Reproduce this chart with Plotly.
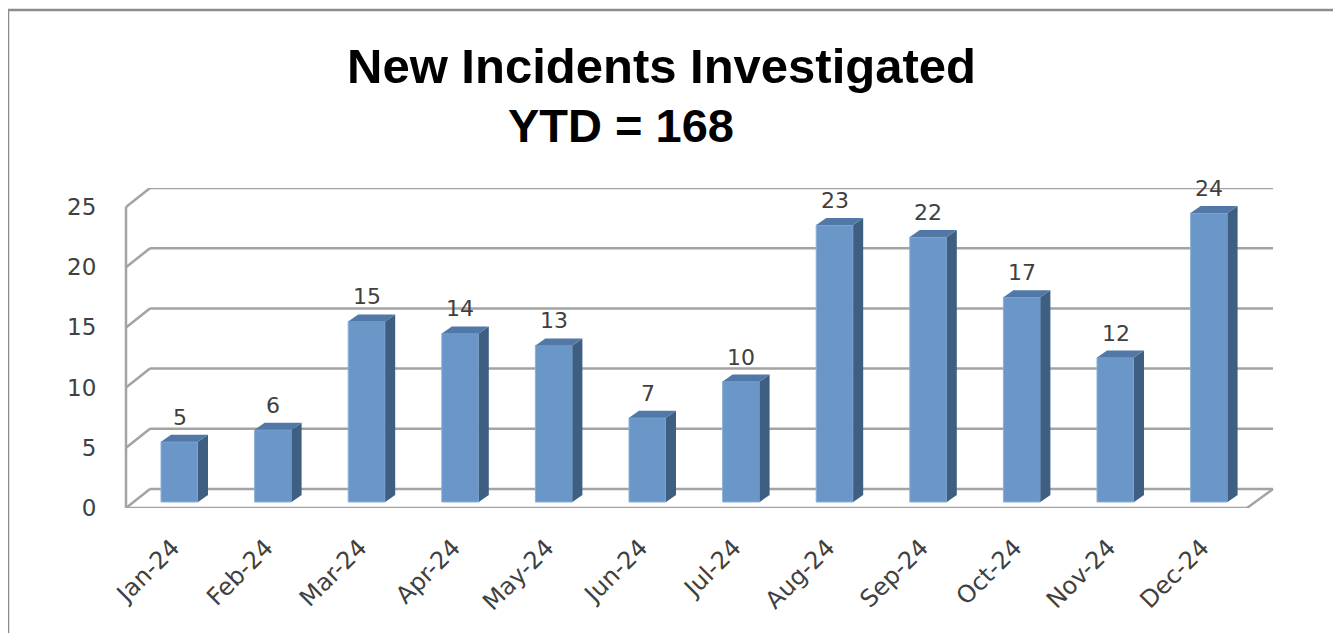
import plotly.graph_objects as go

months = ["Jan-24", "Feb-24", "Mar-24", "Apr-24", "May-24", "Jun-24",
          "Jul-24", "Aug-24", "Sep-24", "Oct-24", "Nov-24", "Dec-24"]
incidents = [5, 6, 15, 14, 13, 7, 10, 23, 22, 17, 12, 24]
y_ticks = [0, 5, 10, 15, 20, 25]
title_1 = "New Incidents Investigated"
title_2 = "YTD = 168"

FRONT = "#6A96C8"
SIDE = "#3F5F82"
TOP = "#5178A6"
GRID = "#A3A3A3"
TXT = "#404040"
FONT = "DejaVu Sans, sans-serif"

W, H = 1341, 633
OFF = 8                                    # page body margin of the html
L, R, T, B = 126, 1273, 188, 508          # plot area in pixels
X0, DX = 179.5, 93.6                       # first bar centre, bar spacing (px)
BASE, S = 502, 12.04                       # bar base pixel, px per unit
FRONT_DY = (BASE - 508) / S                # front plane offset (units)
BACK_DY = (BASE - 489) / S                 # back wall offset (units)
BAR_W = 37 / DX
DEPTH_X = 10 / DX
DEPTH_Y = 7 / S


def fx(p):
    return (p - L) / (R - L)


def fy(p):
    return (B - p) / (B - T)


idx = list(range(len(months)))

fig = go.Figure()
fig.add_bar(
    x=idx, y=incidents, width=BAR_W,
    marker=dict(color=FRONT, line=dict(color="#8AB0DA", width=1)),
    hovertemplate="<b>%{customdata}</b><br>%{y}<extra></extra>",
    customdata=months,
)

shapes = []
# back wall gridlines + left wall diagonals
for t in y_ticks:
    shapes.append(dict(type="line", xref="paper", yref="y", layer="below",
                       x0=fx(150), x1=1, y0=t + BACK_DY, y1=t + BACK_DY,
                       line=dict(color=GRID, width=2.5)))
    shapes.append(dict(type="line", xref="paper", yref="y", layer="below",
                       x0=0, x1=fx(150), y0=t + FRONT_DY, y1=t + BACK_DY,
                       line=dict(color=GRID, width=2.5)))
# front vertical axis line
shapes.append(dict(type="line", xref="paper", yref="y", layer="below",
                   x0=0, x1=0, y0=FRONT_DY, y1=y_ticks[-1] + FRONT_DY,
                   line=dict(color=GRID, width=2.5)))
# floor front edge and right edge
shapes.append(dict(type="line", xref="paper", yref="y", layer="below",
                   x0=0, x1=fx(1247), y0=FRONT_DY, y1=FRONT_DY,
                   line=dict(color=GRID, width=2.5)))
shapes.append(dict(type="line", xref="paper", yref="y", layer="below",
                   x0=fx(1247), x1=1, y0=FRONT_DY, y1=BACK_DY,
                   line=dict(color=GRID, width=2.5)))

# 3D side and top faces of bars
for i, v in zip(idx, incidents):
    xl, xr = i - BAR_W / 2, i + BAR_W / 2
    side = (f"M{xr},0 L{xr + DEPTH_X},{DEPTH_Y} L{xr + DEPTH_X},{v + DEPTH_Y} "
            f"L{xr},{v} Z")
    top = (f"M{xl},{v} L{xl + DEPTH_X},{v + DEPTH_Y} L{xr + DEPTH_X},{v + DEPTH_Y} "
           f"L{xr},{v} Z")
    shapes.append(dict(type="path", xref="x", yref="y", path=side,
                       fillcolor=SIDE, line=dict(width=0)))
    shapes.append(dict(type="path", xref="x", yref="y", path=top,
                       fillcolor=TOP, line=dict(width=0)))

# outer chart border (left + top)
shapes.append(dict(type="line", xref="paper", yref="paper",
                   x0=fx(8), x1=fx(8), y0=fy(10), y1=fy(H + 20),
                   line=dict(color="#8C8C8C", width=2.5)))
shapes.append(dict(type="line", xref="paper", yref="paper",
                   x0=fx(8), x1=fx(W + 20), y0=fy(10), y1=fy(10),
                   line=dict(color="#8C8C8C", width=2.5)))

annotations = [
    dict(xref="x", yref="y", x=i, y=v + DEPTH_Y, text=str(v), showarrow=False,
         yanchor="bottom", yshift=3, font=dict(family=FONT, size=22, color=TXT))
    for i, v in zip(idx, incidents)
]
annotations += [
    dict(xref="paper", yref="paper", x=fx(661), y=fy(66), text=f"<b>{title_1}</b>",
         xanchor="center", yanchor="middle", showarrow=False,
         font=dict(family="Liberation Sans, Arial", size=49, color="black")),
    dict(xref="paper", yref="paper", x=fx(621), y=fy(126), text=f"<b>{title_2}</b>",
         xanchor="center", yanchor="middle", showarrow=False,
         font=dict(family="Liberation Sans, Arial", size=47, color="black")),
]

fig.update_layout(
    width=W, height=H,
    margin=dict(l=L - OFF, r=W - R + OFF, t=T - OFF, b=H - B + OFF, pad=0),
    plot_bgcolor="white", paper_bgcolor="white",
    showlegend=False,
    xaxis=dict(
        range=[(L - X0) / DX, (R - X0) / DX],
        tickvals=idx, ticktext=months, tickangle=-45,
        ticks="outside", ticklen=15, tickcolor="rgba(0,0,0,0)",
        ticklabelshift=-7,
        tickfont=dict(family=FONT, size=24, color=TXT),
        showgrid=False, zeroline=False, showline=False,
    ),
    yaxis=dict(
        range=[(BASE - B) / S, (BASE - T) / S],
        tickvals=[t + FRONT_DY for t in y_ticks], ticktext=[str(t) for t in y_ticks],
        ticks="outside", ticklen=24, tickcolor="rgba(0,0,0,0)",
        tickfont=dict(family=FONT, size=23, color=TXT),
        showgrid=False, zeroline=False, showline=False,
    ),
    shapes=shapes,
    annotations=annotations,
)

fig.write_html("out.html")
